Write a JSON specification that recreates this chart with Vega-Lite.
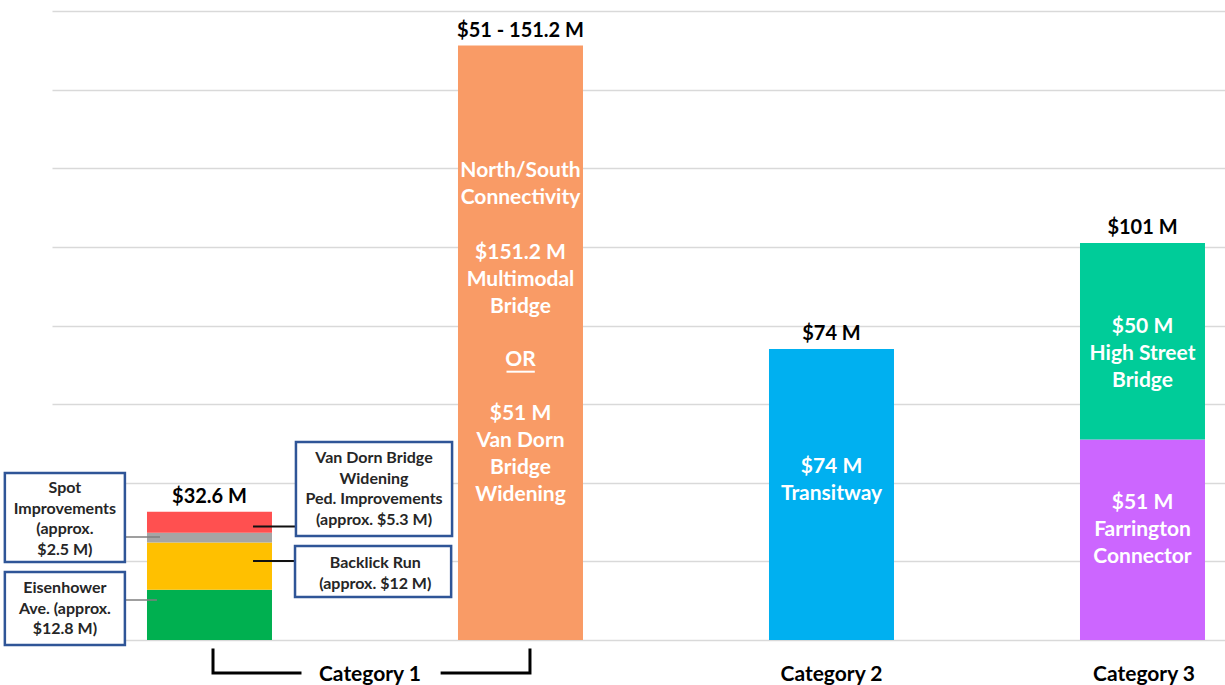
{
  "$schema": "https://vega.github.io/schema/vega-lite/v6.json",
  "width": 1173,
  "height": 629,
  "autosize": "none",
  "padding": {"left": 52, "top": 11, "right": 0, "bottom": 45},
  "background": "white",
  "config": {"view": {"stroke": null}, "font": "Lato"},
  "datasets": {
    "bars": [
      {"pos": 1, "segment": "Eisenhower Ave.", "value": 12.8, "seq": 1},
      {"pos": 1, "segment": "Backlick Run", "value": 12, "seq": 2},
      {"pos": 1, "segment": "Spot Improvements", "value": 2.5, "seq": 3},
      {"pos": 1, "segment": "Van Dorn Ped. Improvements", "value": 5.3, "seq": 4},
      {"pos": 2, "segment": "North/South Connectivity", "value": 151.2, "seq": 1},
      {"pos": 3, "segment": "Transitway", "value": 74, "seq": 1},
      {"pos": 4, "segment": "Farrington Connector", "value": 51, "seq": 1},
      {"pos": 4, "segment": "High Street Bridge", "value": 50, "seq": 2}
    ],
    "totals": [
      {"pos": 1, "total": 32.6, "label": "$32.6 M"},
      {"pos": 2, "total": 151.2, "label": "$51 - 151.2 M"},
      {"pos": 3, "total": 74, "label": "$74 M"},
      {"pos": 4, "total": 101, "label": "$101 M"}
    ],
    "inner": [
      {"pos": 2, "ly": 119.3, "lines": ["North/South", "Connectivity"]},
      {"pos": 2, "ly": 98.44, "lines": ["$151.2 M", "Multimodal", "Bridge"]},
      {"pos": 2, "ly": 71.22, "lines": ["OR"]},
      {"pos": 2, "ly": 57.49, "lines": ["$51 M", "Van Dorn", "Bridge", "Widening"]},
      {"pos": 3, "ly": 44.0, "lines": ["$74 M", "Transitway"]},
      {"pos": 4, "ly": 79.6, "lines": ["$50 M", "High Street", "Bridge"]},
      {"pos": 4, "ly": 34.85, "lines": ["$51 M", "Farrington", "Connector"]}
    ],
    "boxes": [
      {"x": 0.342, "x2": 0.728, "y": 42.48, "y2": 19.84, "tx": 0.535, "ty": 38.66, "lines": ["Spot", "Improvements", "(approx.", "$2.5 M)"]},
      {"x": 0.342, "x2": 0.728, "y": 17.3, "y2": -1.27, "tx": 0.535, "ty": 13.23, "lines": ["Eisenhower", "Ave. (approx.", "$12.8 M)"]},
      {"x": 1.278, "x2": 1.78, "y": 50.37, "y2": 26.45, "tx": 1.529, "ty": 46.3, "lines": ["Van Dorn Bridge", "Widening", "Ped. Improvements", "(approx. $5.3 M)"]},
      {"x": 1.275, "x2": 1.777, "y": 23.91, "y2": 10.94, "tx": 1.533, "ty": 19.59, "lines": ["Backlick Run", "(approx. $12 M)"]}
    ],
    "leaders": [
      {"side": "left", "x": 0.728, "x2": 0.841, "y": 26.2},
      {"side": "left", "x": 0.728, "x2": 0.831, "y": 10.17},
      {"side": "right", "x": 1.14, "x2": 1.278, "y": 28.9},
      {"side": "right", "x": 1.14, "x2": 1.278, "y": 20.1}
    ],
    "bracket": [
      {"piece": "a", "seq": 1, "x": 1.0113, "y": -2.54},
      {"piece": "a", "seq": 2, "x": 1.0113, "y": -8.39},
      {"piece": "a", "seq": 3, "x": 1.291, "y": -8.39},
      {"piece": "b", "seq": 1, "x": 1.748, "y": -8.39},
      {"piece": "b", "seq": 2, "x": 2.0305, "y": -8.39},
      {"piece": "b", "seq": 3, "x": 2.0305, "y": -2.54}
    ],
    "cats": [
      {"x": 1.516, "y": -8.9, "label": "Category 1"},
      {"x": 3.0, "y": -8.9, "label": "Category 2"},
      {"x": 4.005, "y": -8.9, "label": "Category 3"}
    ],
    "underline": [
      {"x": 1.955, "x2": 2.046, "y": 68.25}
    ]
  },
  "layer": [
    {
      "data": {"name": "bars"},
      "mark": {"type": "bar", "width": 125},
      "encoding": {
        "x": {"field": "pos", "type": "quantitative", "scale": {"domain": [0.4936, 4.2653], "nice": false, "zero": false, "padding": 0}, "axis": null},
        "y": {"field": "value", "type": "quantitative", "stack": "zero", "title": null, "scale": {"domain": [0, 160], "nice": false},
              "axis": {"values": [0, 20, 40, 60, 80, 100, 120, 140, 160], "grid": true, "gridColor": "#D9D9D9", "gridWidth": 1.5, "labels": false, "ticks": false, "domain": false, "title": null}},
        "color": {"field": "segment", "type": "nominal",
                  "scale": {"domain": ["Eisenhower Ave.", "Backlick Run", "Spot Improvements", "Van Dorn Ped. Improvements", "North/South Connectivity", "Transitway", "Farrington Connector", "High Street Bridge"],
                            "range": ["#00B050", "#FFC000", "#A5A5A5", "#FF5050", "#F99B66", "#00B0F0", "#CC66FF", "#00CC99"]},
                  "legend": null},
        "order": {"field": "seq", "type": "quantitative"}
      }
    },
    {
      "data": {"name": "totals"},
      "mark": {"type": "text", "fontSize": 20, "fontWeight": "bold", "color": "#000000", "baseline": "middle", "dy": -15},
      "encoding": {
        "x": {"field": "pos", "type": "quantitative", "scale": {"domain": [0.4936, 4.2653], "nice": false, "zero": false, "padding": 0}, "axis": null},
        "y": {"field": "total", "type": "quantitative", "title": null, "scale": {"domain": [0, 160], "nice": false},
              "axis": {"values": [0, 20, 40, 60, 80, 100, 120, 140, 160], "grid": true, "gridColor": "#D9D9D9", "gridWidth": 1.5, "labels": false, "ticks": false, "domain": false, "title": null}},
        "text": {"field": "label", "type": "nominal"}
      }
    },
    {
      "data": {"name": "inner"},
      "mark": {"type": "text", "fontSize": 21, "fontWeight": "bold", "color": "#FFFFFF", "baseline": "middle", "lineHeight": 27.1},
      "encoding": {
        "x": {"field": "pos", "type": "quantitative", "scale": {"domain": [0.4936, 4.2653], "nice": false, "zero": false, "padding": 0}, "axis": null},
        "y": {"field": "ly", "type": "quantitative", "title": null, "scale": {"domain": [0, 160], "nice": false},
              "axis": {"values": [0, 20, 40, 60, 80, 100, 120, 140, 160], "grid": true, "gridColor": "#D9D9D9", "gridWidth": 1.5, "labels": false, "ticks": false, "domain": false, "title": null}},
        "text": {"field": "lines", "type": "nominal"}
      }
    },
    {
      "data": {"name": "underline"},
      "mark": {"type": "rule", "color": "#FFFFFF", "strokeWidth": 2},
      "encoding": {
        "x": {"field": "x", "type": "quantitative", "scale": {"domain": [0.4936, 4.2653], "nice": false, "zero": false, "padding": 0}, "axis": null},
        "x2": {"field": "x2"},
        "y": {"field": "y", "type": "quantitative", "title": null, "scale": {"domain": [0, 160], "nice": false},
              "axis": {"values": [0, 20, 40, 60, 80, 100, 120, 140, 160], "grid": true, "gridColor": "#D9D9D9", "gridWidth": 1.5, "labels": false, "ticks": false, "domain": false, "title": null}}
      }
    },
    {
      "data": {"name": "leaders"},
      "transform": [{"filter": "datum.side === 'left'"}],
      "mark": {"type": "rule", "color": "#7F7F7F", "strokeWidth": 1.5},
      "encoding": {
        "x": {"field": "x", "type": "quantitative", "scale": {"domain": [0.4936, 4.2653], "nice": false, "zero": false, "padding": 0}, "axis": null},
        "x2": {"field": "x2"},
        "y": {"field": "y", "type": "quantitative", "title": null, "scale": {"domain": [0, 160], "nice": false},
              "axis": {"values": [0, 20, 40, 60, 80, 100, 120, 140, 160], "grid": true, "gridColor": "#D9D9D9", "gridWidth": 1.5, "labels": false, "ticks": false, "domain": false, "title": null}}
      }
    },
    {
      "data": {"name": "leaders"},
      "transform": [{"filter": "datum.side === 'right'"}],
      "mark": {"type": "rule", "color": "#111111", "strokeWidth": 2},
      "encoding": {
        "x": {"field": "x", "type": "quantitative", "scale": {"domain": [0.4936, 4.2653], "nice": false, "zero": false, "padding": 0}, "axis": null},
        "x2": {"field": "x2"},
        "y": {"field": "y", "type": "quantitative", "title": null, "scale": {"domain": [0, 160], "nice": false},
              "axis": {"values": [0, 20, 40, 60, 80, 100, 120, 140, 160], "grid": true, "gridColor": "#D9D9D9", "gridWidth": 1.5, "labels": false, "ticks": false, "domain": false, "title": null}}
      }
    },
    {
      "data": {"name": "boxes"},
      "mark": {"type": "rect", "fill": "#FFFFFF", "stroke": "#2F5597", "strokeWidth": 2.5},
      "encoding": {
        "x": {"field": "x", "type": "quantitative", "scale": {"domain": [0.4936, 4.2653], "nice": false, "zero": false, "padding": 0}, "axis": null},
        "x2": {"field": "x2"},
        "y": {"field": "y", "type": "quantitative", "title": null, "scale": {"domain": [0, 160], "nice": false},
              "axis": {"values": [0, 20, 40, 60, 80, 100, 120, 140, 160], "grid": true, "gridColor": "#D9D9D9", "gridWidth": 1.5, "labels": false, "ticks": false, "domain": false, "title": null}},
        "y2": {"field": "y2"}
      }
    },
    {
      "data": {"name": "boxes"},
      "mark": {"type": "text", "fontSize": 16, "fontWeight": "bold", "color": "#262626", "baseline": "middle", "lineHeight": 20.7},
      "encoding": {
        "x": {"field": "tx", "type": "quantitative", "scale": {"domain": [0.4936, 4.2653], "nice": false, "zero": false, "padding": 0}, "axis": null},
        "y": {"field": "ty", "type": "quantitative", "title": null, "scale": {"domain": [0, 160], "nice": false},
              "axis": {"values": [0, 20, 40, 60, 80, 100, 120, 140, 160], "grid": true, "gridColor": "#D9D9D9", "gridWidth": 1.5, "labels": false, "ticks": false, "domain": false, "title": null}},
        "text": {"field": "lines", "type": "nominal"}
      }
    },
    {
      "data": {"name": "bracket"},
      "mark": {"type": "line", "color": "#000000", "strokeWidth": 3, "strokeCap": "square"},
      "encoding": {
        "x": {"field": "x", "type": "quantitative", "scale": {"domain": [0.4936, 4.2653], "nice": false, "zero": false, "padding": 0}, "axis": null},
        "y": {"field": "y", "type": "quantitative", "title": null, "scale": {"domain": [0, 160], "nice": false},
              "axis": {"values": [0, 20, 40, 60, 80, 100, 120, 140, 160], "grid": true, "gridColor": "#D9D9D9", "gridWidth": 1.5, "labels": false, "ticks": false, "domain": false, "title": null}},
        "detail": {"field": "piece", "type": "nominal"},
        "order": {"field": "seq", "type": "quantitative"}
      }
    },
    {
      "data": {"name": "cats"},
      "mark": {"type": "text", "fontSize": 21, "fontWeight": "bold", "color": "#000000", "baseline": "middle"},
      "encoding": {
        "x": {"field": "x", "type": "quantitative", "scale": {"domain": [0.4936, 4.2653], "nice": false, "zero": false, "padding": 0}, "axis": null},
        "y": {"field": "y", "type": "quantitative", "title": null, "scale": {"domain": [0, 160], "nice": false},
              "axis": {"values": [0, 20, 40, 60, 80, 100, 120, 140, 160], "grid": true, "gridColor": "#D9D9D9", "gridWidth": 1.5, "labels": false, "ticks": false, "domain": false, "title": null}},
        "text": {"field": "label", "type": "nominal"}
      }
    }
  ]
}
